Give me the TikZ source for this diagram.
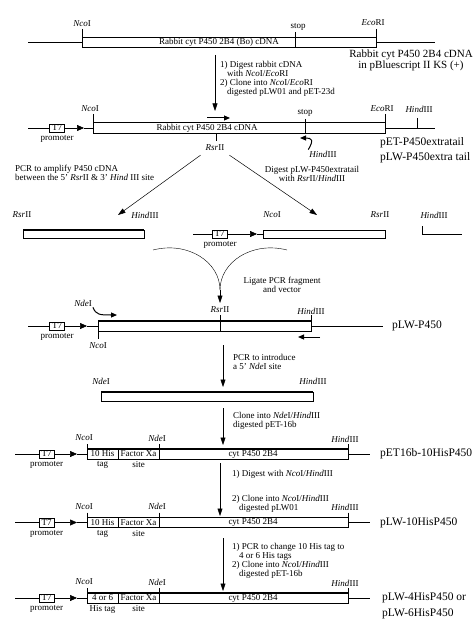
\documentclass[tikz,border=0pt]{standalone}
\usepackage{fontspec}
\setmainfont{Liberation Serif}
\usetikzlibrary{arrows.meta}

\begin{document}
\begin{tikzpicture}[x=1pt, y=-1pt,
  every node/.style={inner sep=1pt},
  lbl/.style={font=\fontsize{9}{9}\selectfont},
  note/.style={lbl, anchor=north west, align=left},
  plasmid/.style={font=\fontsize{11.5}{13}\selectfont, anchor=west, inner sep=0pt},
  t7box/.style={draw, fill=white, lbl, minimum width=15pt, minimum height=8.5pt, inner sep=0pt},
  dna/.style={line width=0.6pt},
  insert/.style={draw, line width=0.5pt},
  steparrow/.style={-{Triangle[length=7.5pt,width=5pt]}, line width=0.5pt},
  primer/.style={-{Triangle[length=6pt,width=5pt]}, line width=1pt},
  promo/.style={-{Triangle[length=7pt,width=6pt]}, line width=0.6pt}
]
\useasboundingbox (0,0) rectangle (474,620);

% Row 1: cDNA in pBluescript
\draw[dna] (28,42) -- (82,42) (376,42) -- (435,42);
\draw[insert] (82,37.5) rectangle (376,47.5);
\draw[line width=1.2pt] (82,37.5) -- (376,37.5);
\node[lbl] (ins1) at (219,42.5) {Rabbit cyt P450 2B4 (Bo) cDNA};
\draw (82,29) -- (82,37.5);
\node[lbl] (nco1) at (82,24) {\textit{Nco}I};
\draw (295,32) -- (295,47.5);
\node[lbl] (stop1) at (298,27) {stop};
\draw (376,29) -- (376,37.5);
\node[lbl] (eco1) at (373,23) {\textit{Eco}RI};
\node[font=\fontsize{11}{10}\selectfont, align=center] (pbs) at (411,60)
  {Rabbit cyt P450 2B4 cDNA\\in pBluescript II KS (+)};

% Step 1
\coordinate (a1s) at (215,55);
\coordinate (a1e) at (215,111);
\draw[steparrow] (a1s) -- (a1e);
\node[note] (step1) at (219,60) {1) Digest rabbit cDNA\\
  \hspace*{7pt}with \textit{Nco}I/\textit{Eco}RI\\
  2) Clone into \textit{Nco}I/\textit{Eco}RI\\
  \hspace*{7pt}digested pLW01 and pET-23d};

% Row 2: pET-P450extratail
\node[t7box] (t7b) at (57,128) {T7};
\node[lbl] (pro2) at (57,138.5) {promoter};
\draw[dna] (28,128) -- (t7b.west) (84,128) -- (93,128) (385,128) -- (435,128);
\draw[promo] (t7b.east) -- (84,128);
\draw[insert] (93,122.5) rectangle (385,133.5);
\draw[line width=1.2pt] (93,122.5) -- (385,122.5);
\node[lbl] (ins2) at (207,128) {Rabbit cyt P450 2B4 cDNA};
\draw (93,114) -- (93,122.5);
\node[lbl] (nco2) at (90,109) {\textit{Nco}I};
\draw (305,119) -- (305,133.5);
\node[lbl] (stop2) at (305,113) {stop};
\draw (385,114) -- (385,122.5);
\node[lbl] (eco2) at (382,109) {\textit{Eco}RI};
\draw (417,118) -- (417,128);
\node[lbl] (hin2) at (419,109) {\textit{Hind}III};
\draw (216,133.5) -- (216,141);
\node[lbl] (rsr2) at (215,148) {\textit{Rsr}II};
\draw[primer] (207,118) -- (230,118);
\node[lbl] (hinr2) at (323,154) {\textit{Hind}III};
\draw[primer] (hinr2.north west) .. controls (314,140) and (312,138) .. (300,138);
\node[plasmid] (pet1) at (380,143) {pET-P450extratail};
\node[plasmid] (plw1) at (380,158) {pLW-P450extra tail};

% Branches
\coordinate (b1e) at (118,215);
\coordinate (b2e) at (317,215);
\draw[steparrow] (rsr2.south west) ++(-4,3) -- (b1e);
\draw[steparrow] (rsr2.south east) ++(4,3) -- (b2e);
\node[note] (pcr1) at (14,164) {PCR to amplify P450 cDNA\\
  between the 5' \textit{Rsr}II \& 3' \textit{Hind} III site};
\node[lbl, align=center] (dig1) at (312,174) {Digest pLW-P450extratail\\
  with \textit{Rsr}II/\textit{Hind}III};

% Row 3: PCR fragment and vector
\draw[insert] (23,230) rectangle (144,238);
\draw[line width=1.2pt] (23,230) -- (144,230);
\node[lbl] (rsr3) at (22,215) {\textit{Rsr}II};
\node[lbl] (hin3) at (145,215) {\textit{Hind}III};
\node[t7box] (t7c) at (219.5,234) {T7};
\node[lbl] (pro3) at (220,244.5) {promoter};
\draw[dna] (193,234) -- (t7c.west) (257,234) -- (263,234);
\draw[promo] (t7c.east) -- (257,234);
\draw[insert] (263,230) rectangle (385,238);
\node[lbl] (nco3) at (272,215) {\textit{Nco}I};
\node[lbl] (rsr3b) at (380,215) {\textit{Rsr}II};
\draw[dna] (422,226) -- (422,234) -- (462,234);
\node[lbl] (hin3b) at (434,215) {\textit{Hind}III};

% Ligation
\coordinate (lig) at (220,290);
\draw (153,250) .. controls (188,241) and (220,262) .. (lig);
\draw (287,250) .. controls (252,241) and (220,262) .. (lig);
\coordinate (a3e) at (220,303);
\draw[steparrow] (lig) -- (a3e);
\node[lbl, align=center] (liga) at (282,285) {Ligate PCR fragment\\and vector};

% Row 4: pLW-P450
\node[t7box] (t7d) at (57,326) {T7};
\node[lbl] (pro4) at (57,337) {promoter};
\draw[dna] (28,326) -- (t7d.west) (87,326) -- (98,326) (311,326) -- (383,326);
\draw[promo] (t7d.east) -- (87,326);
\draw[insert] (98,321) rectangle (311,331);
\draw[line width=1.2pt] (98,321) -- (311,321);
\draw (220,315) -- (220,331);
\node[lbl] (rsr4) at (220,310) {\textit{Rsr}II};
\draw (311,315) -- (311,321);
\node[lbl] (hin4) at (311,311) {\textit{Hind}III};
\draw (98,331) -- (98,339);
\node[lbl] (nco4) at (98,346) {\textit{Nco}I};
\node[lbl] (nde4) at (83,303) {\textit{Nde}I};
\draw[primer] (nde4.south east) .. controls (96,315) and (100,315) .. (117,315);
\coordinate (r4s) at (320,337);
\draw[primer] (r4s) -- (298,337);
\node[plasmid] (plw2) at (392,326) {pLW-P450};

% Step 4
\coordinate (a4s) at (223,345);
\coordinate (a4e) at (223,387);
\draw[steparrow] (a4s) -- (a4e);
\node[note] (step4) at (232,353) {PCR to introduce\\a 5' \textit{Nde}I site};

% Row 5: NdeI/HindIII fragment
\draw[insert] (101,392) rectangle (313,401);
\draw[line width=1.2pt] (101,392) -- (313,392);
\node[lbl] (nde5) at (101,381) {\textit{Nde}I};
\node[lbl] (hin5) at (313,381) {\textit{Hind}III};

% Step 5
\coordinate (a5s) at (223,408);
\coordinate (a5e) at (223,445);
\draw[steparrow] (a5s) -- (a5e);
\node[note] (step5) at (232,411) {Clone into \textit{Nde}I/\textit{Hind}III\\digested pET-16b};

% Rows 6-8: His-tag constructs
\foreach \y/\n/\tagA/\tagB in {454/6/10 His/tag, 522.5/7/10 His/tag, 598/8/4 or 6/His tag} {
  \node[t7box] (t7r\n) at (46.5,\y) {T7};
  \draw[dna] (15,\y) -- (t7r\n.west) (77,\y) -- (87,\y) (348,\y) -- (370,\y);
  \draw[promo] (t7r\n.east) -- (77,\y);
  \draw[insert] (87,\y-5) rectangle (348,\y+5);
  \draw[line width=1.2pt] (87,\y-5) -- (348,\y-5);
  \draw (118,\y-5) -- (118,\y+5);
  \draw (159,\y-10) -- (159,\y+5);
  \draw (87,\y-10) -- (87,\y-5) (348,\y-10) -- (348,\y-5);
  \node[lbl] (his\n) at (102.5,\y) {\tagA};
  \node[lbl] (fxa\n) at (138.5,\y) {Factor Xa};
  \node[lbl] (cyp\n) at (253,\y) {cyt P450 2B4};
  \node[lbl] (tag\n) at (102.5,\y+11) {\tagB};
  \node[lbl] (site\n) at (138.5,\y+11) {site};
  \node[lbl] (pro\n) at (46.5,\y+11) {promoter};
  \node[lbl] (nco\n) at (84,\y-16) {\textit{Nco}I};
  \node[lbl] (nde\n) at (157,\y-16) {\textit{Nde}I};
  \node[lbl] (hin\n) at (345,\y-15) {\textit{Hind}III};
}
\node[plasmid] (pet2) at (380,454) {pET16b-10HisP450};
\node[plasmid] (plw3) at (380,523) {pLW-10HisP450};
\node[plasmid] (plw4) at (382,598) {pLW-4HisP450 or};
\node[plasmid] (plw5) at (382,614) {pLW-6HisP450};

% Step 6
\coordinate (a6s) at (220,463);
\coordinate (a6e) at (220,516);
\draw[steparrow] (a6s) -- (a6e);
\node[note] (step6a) at (231,469) {1) Digest with \textit{Nco}I/\textit{Hind}III};
\node[note] (step6b) at (231,494) {2) Clone into \textit{Nco}I/\textit{Hind}III\\
  \hspace*{7pt}digested pLW01};

% Step 7
\coordinate (a7s) at (223,538);
\coordinate (a7e) at (223,591);
\draw[steparrow] (a7s) -- (a7e);
\node[note] (step7) at (231,542) {1) PCR to change 10 His tag to\\
  \hspace*{7pt}4 or 6 His tags\\
  2) Clone into \textit{Nco}I/\textit{Hind}III\\
  \hspace*{7pt}digested pET-16b};
\end{tikzpicture}
\end{document}
